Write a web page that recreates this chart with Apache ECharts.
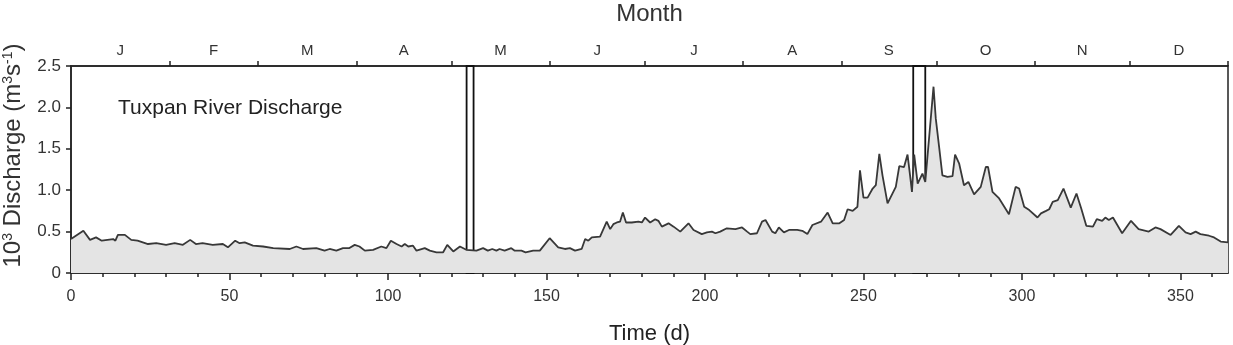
<!DOCTYPE html>
<html><head><meta charset="utf-8">
<script src="https://cdn.jsdelivr.net/npm/echarts@6/dist/echarts.min.js"></script>
<style>html,body{margin:0;padding:0;background:#fff}#c{width:1233px;height:345px}</style>
</head><body><div id="c"></div>
<script>
const days = [0,3.9,6,7.9,9.7,13.3,14,14.8,17,19,21,24.3,26.9,30,32.7,35.3,37.6,39.4,41.5,44.7,47.9,49.5,51.8,53.2,54.8,57.4,60.6,63.8,69,71.1,73.2,77.4,80,81.6,83.7,85.8,87.7,89.5,91,92.7,95.3,97.9,99.5,100.9,102.7,104.3,105.3,106.4,107.9,109,111.6,113.2,115.3,117.4,118.7,120.6,122.7,124.7,127.9,130,131.5,132.9,134.2,135.2,136.8,138.9,140,142.1,143.4,145.8,147.9,151,153.7,155.8,157.4,159,161.1,162.2,163.2,164.3,166.9,169,170.1,171.1,172.2,173.2,174.1,175.1,176.9,179,180.1,181.1,182.7,184.3,185.3,186.4,188.5,190.1,192.2,194.8,196.4,199,200.6,202.2,203.3,204.8,206.9,209.6,211.7,213.3,214.3,216.4,218,219.1,221.2,222.2,223.3,224.9,226.5,229.1,230.7,232.3,233.9,236.6,238.7,240.3,242.4,243.9,245,246.6,248.1,248.9,250,251.3,252.9,253.9,255,256,257.6,258.1,260.2,261.3,262.8,263.9,264.7,265.3,266,267.1,268.6,269.5,270.7,272.1,272.8,273.9,274.9,276.5,278.1,278.9,280.2,281.7,283.1,284.9,287,288.6,289.3,290.7,292.8,295.9,298,299.1,300.7,302.3,304.9,306,307.6,308.6,309.7,311.3,313.1,315.4,317.2,318.7,320.3,322.4,323.6,325.3,326.3,327.4,328.7,331.6,334.4,336.8,340,342.1,343.7,346.9,349.5,351.6,353.2,354.8,356.3,359,360.6,362.7,365];
const discharge = [0.41,0.51,0.40,0.43,0.39,0.41,0.39,0.46,0.46,0.40,0.39,0.35,0.36,0.34,0.36,0.34,0.40,0.35,0.36,0.34,0.35,0.31,0.39,0.36,0.37,0.33,0.32,0.30,0.29,0.32,0.29,0.30,0.27,0.29,0.27,0.30,0.30,0.34,0.32,0.27,0.28,0.32,0.30,0.39,0.35,0.32,0.35,0.32,0.33,0.27,0.30,0.27,0.25,0.25,0.34,0.26,0.32,0.28,0.27,0.30,0.27,0.29,0.27,0.29,0.27,0.30,0.27,0.27,0.25,0.27,0.27,0.42,0.31,0.29,0.30,0.27,0.29,0.41,0.39,0.43,0.44,0.62,0.53,0.59,0.61,0.62,0.73,0.61,0.61,0.62,0.61,0.67,0.61,0.65,0.63,0.56,0.60,0.56,0.50,0.60,0.52,0.47,0.49,0.50,0.48,0.50,0.54,0.53,0.55,0.50,0.47,0.48,0.62,0.64,0.50,0.48,0.55,0.49,0.52,0.52,0.51,0.47,0.58,0.62,0.73,0.60,0.60,0.64,0.77,0.75,0.80,1.24,0.91,0.91,1.02,1.06,1.44,1.18,0.84,0.82,1.04,1.29,1.28,1.43,1.18,0.98,1.43,1.08,1.20,1.10,1.63,2.25,1.87,1.51,1.18,1.16,1.17,1.43,1.32,1.06,1.10,0.95,1.04,1.28,1.28,0.98,0.90,0.71,1.04,1.02,0.80,0.76,0.67,0.72,0.75,0.77,0.86,0.88,1.02,0.79,0.96,0.78,0.57,0.56,0.65,0.63,0.67,0.64,0.67,0.48,0.63,0.53,0.50,0.55,0.53,0.46,0.57,0.49,0.47,0.50,0.47,0.45,0.43,0.38,0.37];
const monthLetters = ['J','F','M','A','M','J','J','A','S','O','N','D'];
const monthMid = [15.5,45,74.5,105,135.5,166,196.5,227.5,258,288.5,319,349.5];
const monthEdges = [31,59,90,120,151,181,212,243,273,304,334,365];
const dayTicksMajor = [0,50,100,150,200,250,300,350];
const dayTicksMinor = [10,20,30,40,60,70,80,90,110,120,130,140,160,170,180,190,210,220,230,240,260,270,280,290,310,320,330,340,360];
const yTicks = [0,0.5,1.0,1.5,2.0,2.5];
const boxStart = [124.8,265.7];
const boxEnd = [127.0,269.5];

const FONT = 'Liberation Sans, Arial, sans-serif';
const ink = '#222';
const chart = echarts.init(document.getElementById('c'), null, {renderer:'canvas'});
const G = {left:71, right:5, top:66, bottom:72, outerBoundsMode:'none', containLabel:false};
chart.setOption({
  animation:false,
  textStyle:{fontFamily:FONT},
  title:{text:'Tuxpan River Discharge', left:113, top:93, textStyle:{fontSize:21, fontWeight:'normal', color:ink, fontFamily:FONT}},
  grid:[Object.assign({show:true, borderColor:ink, borderWidth:1.5, backgroundColor:'transparent'}, G),
        Object.assign({show:false}, G)],
  xAxis:[
    {type:'value', gridIndex:0, position:'bottom', min:0, max:365,
     name:'Time (d)', nameLocation:'middle', nameGap:50,
     nameTextStyle:{fontSize:22, color:ink, fontFamily:FONT},
     axisLine:{show:true, lineStyle:{color:ink, width:1.5}},
     axisTick:{show:true, length:7, customValues:dayTicksMajor, lineStyle:{color:ink, width:1.5}},
     axisLabel:{customValues:dayTicksMajor, margin:16, fontSize:16, color:'#333', fontFamily:FONT},
     splitLine:{show:false}},
    {type:'value', gridIndex:0, position:'top', min:0, max:365,
     name:'Month', nameLocation:'middle', nameGap:40,
     nameTextStyle:{fontSize:24, color:'#333', fontFamily:FONT},
     axisLine:{show:true, lineStyle:{color:ink, width:1.5}},
     axisTick:{show:true, length:5, customValues:monthEdges, lineStyle:{color:ink, width:1.5}},
     axisLabel:{customValues:monthMid, margin:8, fontSize:15, color:'#333', fontFamily:FONT,
       formatter:function(v){const i=monthMid.indexOf(v);return i>=0?monthLetters[i]:'';}},
     splitLine:{show:false}},
    {type:'value', gridIndex:1, position:'bottom', min:0, max:365,
     axisLine:{show:false},
     axisTick:{show:true, length:4, customValues:dayTicksMinor, lineStyle:{color:ink, width:1.5}},
     axisLabel:{show:false}, splitLine:{show:false}}
  ],
  yAxis:[
    {type:'value', gridIndex:0, min:0, max:2.5, interval:0.5,
     name:'10{s|3} Discharge (m{s|3}s{s|-1})', nameLocation:'middle', nameGap:46,
     nameTextStyle:{fontSize:24, color:'#333', fontFamily:FONT, padding:[0,0,0,28],
       rich:{s:{fontSize:14, verticalAlign:'top', color:'#333', fontFamily:FONT}}},
     axisLine:{show:true, lineStyle:{color:ink, width:1.5}},
     axisTick:{show:true, length:5, lineStyle:{color:ink, width:1.5}},
     axisLabel:{margin:10, fontSize:17, color:'#333', fontFamily:FONT,
       formatter:function(v){return v===0?'0':v.toFixed(1);}},
     splitLine:{show:false}},
    {type:'value', gridIndex:1, min:0, max:2.5, show:false}
  ],
  series:[{
    type:'line', xAxisIndex:0, yAxisIndex:0,
    data: days.map((d,i)=>[d, discharge[i]]),
    showSymbol:false, symbol:'none', clip:false,
    lineStyle:{color:'#383838', width:1.8},
    areaStyle:{color:'#e4e4e4', opacity:1},
    markArea:{silent:true,
      itemStyle:{color:'rgba(0,0,0,0)', borderColor:'#111', borderWidth:1.8},
      data: boxStart.map((s,i)=>[{xAxis:s, yAxis:0},{xAxis:boxEnd[i], yAxis:2.545}])}
  }]
});
</script></body></html>
